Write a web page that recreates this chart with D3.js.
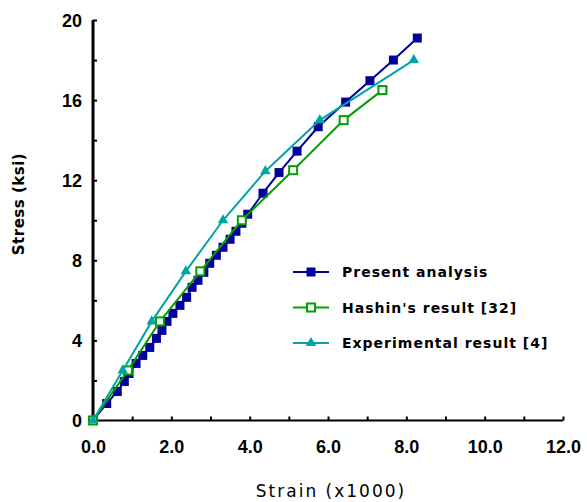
<!DOCTYPE html>
<style>body { margin: 0; } svg { display: block; }</style>
<svg width="587" height="502" font-family="DejaVu Sans" style="background-color: white"></svg>
<script src="https://d3js.org/d3.v7.min.js"></script>
<script>

var svg = d3.select("svg");

// strain (x1000) / stress (ksi)
var presentStrain = [0, 0.35, 0.62, 0.8, 0.92, 1.1, 1.27, 1.45, 1.62, 1.76, 1.89, 2.04, 2.22, 2.39, 2.53, 2.68, 2.83, 2.98, 3.15, 3.32, 3.5, 3.65, 3.8, 3.95, 4.34, 4.75, 5.21, 5.75, 6.45, 7.07, 7.67, 8.28];
var presentStress = [0, 0.85, 1.45, 1.95, 2.35, 2.85, 3.25, 3.65, 4.1, 4.5, 4.95, 5.35, 5.75, 6.15, 6.65, 7.0, 7.4, 7.85, 8.25, 8.65, 9.05, 9.45, 9.85, 10.3, 11.35, 12.38, 13.45, 14.67, 15.9, 16.97, 18.0, 19.1];

var hashinStrain = [0, 0.89, 1.71, 2.74, 3.8, 5.11, 6.4, 7.39];
var hashinStress = [0, 2.5, 4.95, 7.45, 10.0, 12.5, 15.0, 16.5];

var expStrain = [0, 0.76, 1.5, 2.37, 3.32, 4.4, 5.79, 8.19];
var expStress = [0, 2.5, 4.95, 7.45, 10.0, 12.45, 15.0, 18.0];

var xTicks = d3.range(0, 13, 1);
var yTicks = d3.range(0, 21, 2);

var x = d3.scaleLinear().domain([0, 12]).range([93, 563]);
var y = d3.scaleLinear().domain([0, 20]).range([420.5, 20]);

function zip(a, b) { return a.map(function(v, i) { return [v, b[i]]; }); }

var series = [
  {name: "Present analysis", pts: zip(presentStrain, presentStress), color: "#00009c", marker: "filled"},
  {name: "Hashin's result [32]", pts: zip(hashinStrain, hashinStress), color: "#00a000", marker: "open"},
  {name: "Experimental result [4]", pts: zip(expStrain, expStress), color: "#00a4a4", marker: "tri"}
];

// axes, ticks pointing inward
var xAxis = svg.append("g")
    .attr("transform", "translate(0,420.5)")
    .call(d3.axisBottom(x).tickValues(xTicks).tickSize(-4).tickPadding(14)
      .tickFormat(function(d) { return d % 2 === 0 ? d3.format(".1f")(d) : ""; }));
xAxis.select(".domain").attr("stroke-width", 2).attr("d", "M" + x(0) + ",0H" + x(12));
xAxis.selectAll(".tick line").attr("stroke-width", 2);
xAxis.selectAll(".tick text").attr("font-size", 18).attr("font-weight", "bold")
    .attr("dy", null).attr("y", 32);

var yAxis = svg.append("g")
    .attr("transform", "translate(93,0)")
    .call(d3.axisLeft(y).tickValues(yTicks).tickSize(-4).tickPadding(11)
      .tickFormat(function(d) { return d % 4 === 0 ? d : ""; }));
yAxis.select(".domain").attr("stroke-width", 3).attr("d", "M0," + y(20) + "V" + y(0));
yAxis.selectAll(".tick line").attr("stroke-width", 2);
yAxis.selectAll(".tick text").attr("font-size", 18).attr("font-weight", "bold")
    .attr("dy", "0.36em");

svg.append("text")
    .attr("x", 331).attr("y", 497)
    .attr("text-anchor", "middle")
    .attr("font-size", 17).attr("letter-spacing", 2)
    .text("Strain (x1000)");

svg.append("text")
    .attr("transform", "translate(24,204) rotate(-90)")
    .attr("text-anchor", "middle")
    .attr("font-size", 15).attr("font-weight", "bold").attr("letter-spacing", 0.5)
    .text("Stress (ksi)");

var line = d3.line().x(function(d) { return x(d[0]); }).y(function(d) { return y(d[1]); });

function marker(g, type, color) {
  if (type === "tri") {
    g.append("path").attr("d", d3.symbol(d3.symbolTriangle, 48)()).attr("fill", color);
  } else if (type === "open") {
    g.append("rect").attr("x", -4).attr("y", -4).attr("width", 8).attr("height", 8)
      .attr("fill", "white").attr("stroke", color).attr("stroke-width", 2);
  } else {
    g.append("rect").attr("x", -4.5).attr("y", -4.5).attr("width", 9).attr("height", 9).attr("fill", color);
  }
}

series.forEach(function(s) {
  svg.append("path").datum(s.pts)
      .attr("d", line)
      .attr("fill", "none")
      .attr("stroke", s.color)
      .attr("stroke-width", 2);
  svg.selectAll(null).data(s.pts).enter().append("g")
      .attr("transform", function(d) { return "translate(" + x(d[0]) + "," + y(d[1]) + ")"; })
      .each(function() { marker(d3.select(this), s.marker, s.color); });
});

// legend
var legend = svg.append("g").selectAll("g").data(series).enter().append("g")
    .attr("transform", function(d, i) { return "translate(293," + (272 + i * 35.5) + ")"; });
legend.append("line").attr("x1", 0).attr("x2", 36)
    .attr("stroke", function(d) { return d.color; }).attr("stroke-width", 2);
legend.append("g").attr("transform", "translate(18,0)")
    .each(function(d) { marker(d3.select(this), d.marker, d.color); });
legend.append("text")
    .attr("x", 49).attr("y", 5)
    .attr("font-size", 14).attr("font-weight", "bold").attr("letter-spacing", 1)
    .text(function(d) { return d.name; });

</script>
